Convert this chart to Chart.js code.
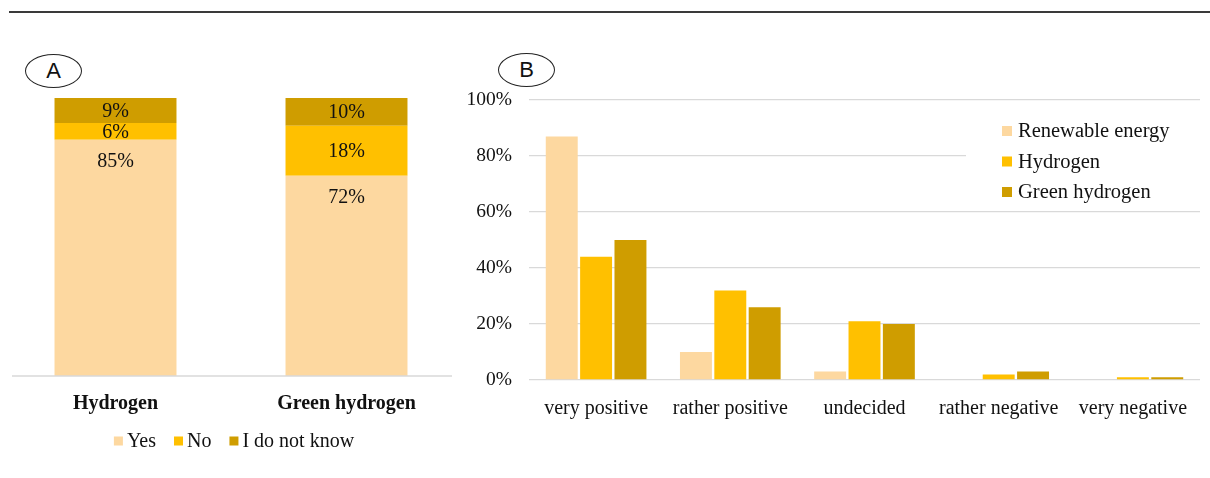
<!DOCTYPE html>
<html>
<head>
<meta charset="utf-8">
<script src="https://cdn.jsdelivr.net/npm/chart.js@4"></script>
<style>
  body { margin: 0; background: #fff; width: 1210px; height: 478px; position: relative; overflow: hidden; }
  .rule { position: absolute; left: 9px; top: 11px; width: 1201px; height: 2px; background: #3a3a3a; }
  .tag { position: absolute; width: 55px; height: 32px; border: 1.5px solid #222; border-radius: 50%;
         font: 22px "Liberation Sans", Arial, sans-serif; color: #111; text-align: center; line-height: 32px; }
  canvas { position: absolute; top: 0; }
</style>
</head>
<body>
<div class="rule"></div>
<div class="tag" style="left:25px;top:54px">A</div>
<div class="tag" style="left:498px;top:53px">B</div>
<canvas id="chartA" width="470" height="478" style="left:0"></canvas>
<canvas id="chartB" width="770" height="478" style="left:440px"></canvas>
<script>
// panel A: would you support...
const categoriesA = ['Hydrogen', 'Green hydrogen'];
const yesA = [85, 72];
const noA = [6, 18];
const unknownA = [9, 10];

// panel B: attitude
const categoriesB = ['very positive', 'rather positive', 'undecided', 'rather negative', 'very negative'];
const renewableB = [87, 10, 3, 0, 0];
const hydrogenB = [44, 32, 21, 2, 1];
const greenHydrogenB = [50, 26, 20, 3, 1];
const yTicksB = [0, 20, 40, 60, 80, 100];

const PEACH = '#FDD8A0';
const GOLD = '#FFC000';
const DARK = '#CF9D00';
const SERIF = '"Liberation Serif", "Times New Roman", serif';

// simple square-marker legend drawn on the canvas
const boxLegend = {
    id: 'boxLegend',
    afterDraw(chart, args, opts) {
        const ctx = chart.ctx;
        const sets = chart.data.datasets;
        ctx.save();
        ctx.font = opts.fontSize + 'px ' + SERIF;
        ctx.textBaseline = 'middle';
        if (opts.background) {
            ctx.fillStyle = '#fff';
            ctx.fillRect(...opts.background);
        }
        let x = opts.x, y = opts.y;
        if (opts.horizontal) {
            let total = 0;
            sets.forEach((ds, i) => {
                total += opts.box + opts.gap + ctx.measureText(ds.label).width;
                if (i < sets.length - 1) total += opts.itemGap;
            });
            x = opts.cx - total / 2;
        }
        sets.forEach(ds => {
            ctx.fillStyle = ds.backgroundColor;
            ctx.fillRect(x, y - opts.box / 2, opts.box, opts.box);
            ctx.fillStyle = '#111';
            ctx.fillText(ds.label, x + opts.box + opts.gap, y + 1);
            if (opts.horizontal) x += opts.box + opts.gap + ctx.measureText(ds.label).width + opts.itemGap;
            else y += opts.lineHeight;
        });
        ctx.restore();
    }
};

// value labels + base line for the stacked chart
const stackLabels = {
    id: 'stackLabels',
    afterDatasetsDraw(chart) {
        const ctx = chart.ctx;
        ctx.save();
        ctx.strokeStyle = '#d9d9d9';
        ctx.lineWidth = 1.3;
        ctx.beginPath();
        ctx.moveTo(12, chart.chartArea.bottom);
        ctx.lineTo(452, chart.chartArea.bottom);
        ctx.stroke();
        ctx.font = '20px ' + SERIF;
        ctx.fillStyle = '#111';
        ctx.textAlign = 'center';
        ctx.textBaseline = 'middle';
        chart.data.datasets.forEach((ds, di) => {
            chart.getDatasetMeta(di).data.forEach((bar, i) => {
                const y = di === 0 ? bar.y + 21 : (bar.y + bar.base) / 2;
                ctx.fillText(ds.data[i] + '%', bar.x, y + 1);
            });
        });
        ctx.restore();
    }
};

new Chart(document.getElementById('chartA'), {
    type: 'bar',
    data: {
        labels: categoriesA,
        datasets: [
            { label: 'Yes', data: yesA, backgroundColor: PEACH },
            { label: 'No', data: noA, backgroundColor: GOLD },
            { label: 'I do not know', data: unknownA, backgroundColor: DARK }
        ]
    },
    options: {
        responsive: false,
        animation: false,
        layout: { padding: { left: 0, right: 8, top: 98, bottom: 42 } },
        datasets: { bar: { categoryPercentage: 1, barPercentage: 0.528 } },
        scales: {
            x: {
                stacked: true,
                grid: { display: false },
                border: { display: false },
                ticks: { color: '#111', padding: 8, font: { family: SERIF, size: 20, weight: 'bold' } },
                afterFit(s) { s.height = 60; }
            },
            y: { stacked: true, display: false, min: 0, max: 100 }
        },
        plugins: {
            legend: { display: false },
            tooltip: { enabled: false },
            boxLegend: { horizontal: true, cx: 234, y: 441, box: 9, gap: 4, itemGap: 18, fontSize: 20 }
        }
    },
    plugins: [stackLabels, boxLegend]
});

new Chart(document.getElementById('chartB'), {
    type: 'bar',
    data: {
        labels: categoriesB,
        datasets: [
            { label: 'Renewable energy', data: renewableB, backgroundColor: PEACH },
            { label: 'Hydrogen', data: hydrogenB, backgroundColor: GOLD },
            { label: 'Green hydrogen', data: greenHydrogenB, backgroundColor: DARK }
        ]
    },
    options: {
        responsive: false,
        animation: false,
        layout: { padding: { left: 0, right: 10, top: 100, bottom: 38 } },
        datasets: { bar: { categoryPercentage: 0.768, barPercentage: 0.93 } },
        scales: {
            x: {
                grid: { display: false },
                border: { display: false },
                ticks: { color: '#111', padding: 9, font: { family: SERIF, size: 20 } },
                afterFit(s) { s.height = 60; }
            },
            y: {
                min: 0,
                max: 100,
                afterBuildTicks(s) { s.ticks = yTicksB.map(v => ({ value: v })); },
                grid: { color: '#d9d9d9', lineWidth: 1.3, drawTicks: false },
                border: { display: false },
                ticks: { color: '#111', padding: 17, font: { family: SERIF, size: 19.5 }, callback: v => v + '%' },
                afterFit(s) { s.width = 89; }
            }
        },
        plugins: {
            legend: { display: false },
            tooltip: { enabled: false },
            boxLegend: { x: 562, y: 131, box: 10, gap: 6, lineHeight: 30.5, fontSize: 20.5, background: [526, 112, 234, 96] }
        }
    },
    plugins: [boxLegend]
});
</script>
</body>
</html>
